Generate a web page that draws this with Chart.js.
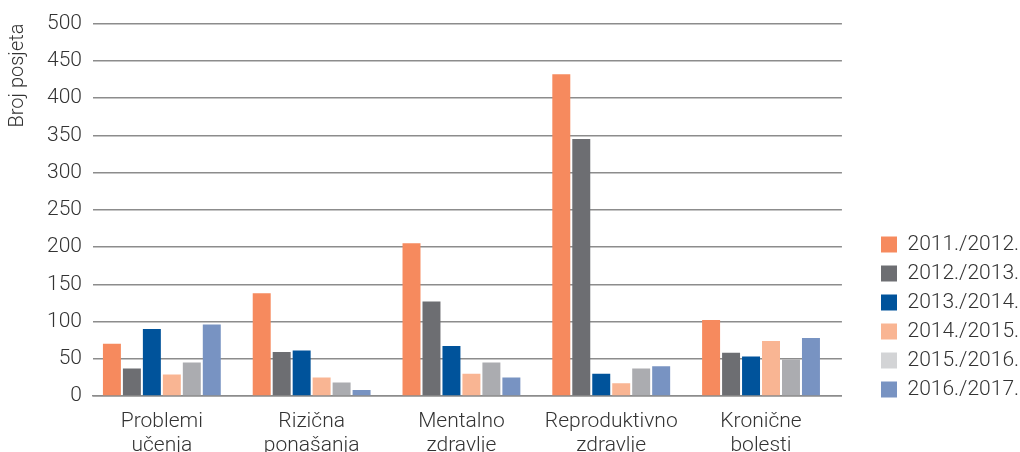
<!DOCTYPE html>
<html>
<head>
<meta charset="utf-8">
<script src="https://cdn.jsdelivr.net/npm/chart.js@4.4.0/dist/chart.umd.min.js"></script>
<style>
  html, body { margin: 0; padding: 0; background: #fff; }
  #okvir { width: 1020px; height: 452px; }
</style>
</head>
<body>
<div id="okvir"><canvas id="grafikon"></canvas></div>
<script>
// ---------- podaci ----------
const kategorije = [
    ['Problemi', 'učenja'],
    ['Rizična', 'ponašanja'],
    ['Mentalno', 'zdravlje'],
    ['Reproduktivno', 'zdravlje'],
    ['Kronične', 'bolesti']
];
const godine = ['2011./2012.', '2012./2013.', '2013./2014.', '2014./2015.', '2015./2016.', '2016./2017.'];

const posjete2011 = [70, 138, 205, 432, 102];
const posjete2012 = [37, 59, 127, 345, 58];
const posjete2013 = [90, 61, 67, 30, 53];
const posjete2014 = [29, 25, 30, 17, 74];
const posjete2015 = [45, 18, 45, 37, 49];
const posjete2016 = [96, 8, 25, 40, 78];

const yMin = 0, yMax = 500, yKorak = 50;

// ---------- boje ----------
const boje = ['#F68A5E', '#6D6E72', '#00539B', '#F9B593', '#ABACB0', '#7893C2'];
const bojeLegende = ['#F68A5E', '#6D6E72', '#00539B', '#F9B593', '#D3D4D6', '#7893C2'];
const FONT = 'Roboto';

const serije = [posjete2011, posjete2012, posjete2013, posjete2014, posjete2015, posjete2016];

// pomak legende na mjesto kao u originalu
const pomakLegende = {
    id: 'pomakLegende',
    afterLayout(chart) {
        const l = chart.legend;
        const dx = 881 - (l.left + 8);
        const dy = 234 - (l.top + 8);
        l.left += dx; l.right += dx;
        l.top += dy; l.bottom += dy;
    }
};

new Chart(document.getElementById('grafikon'), {
    type: 'bar',
    data: {
        datasets: godine.map((g, i) => ({
            label: g,
            // x = redni broj kategorije (linearna os da skupine sjednu kao u Excelu)
            data: serije[i].map((v, k) => ({ x: k, y: v })),
            backgroundColor: boje[i],
            categoryPercentage: 0.8,
            barPercentage: 0.9
        }))
    },
    options: {
        responsive: true,
        maintainAspectRatio: false,
        animation: false,
        layout: { padding: { top: 21, left: 6, right: 0, bottom: 0 } },
        plugins: {
            tooltip: { enabled: false },
            legend: {
                position: 'right',
                align: 'start',
                labels: {
                    boxWidth: 16,
                    boxHeight: 16,
                    padding: 8,
                    color: '#333',
                    font: { family: FONT, size: 21, weight: '300' },
                    generateLabels: chart => godine.map((g, i) => ({
                        text: g,
                        fillStyle: bojeLegende[i],
                        strokeStyle: bojeLegende[i],
                        lineWidth: 0,
                        datasetIndex: i,
                        fontColor: '#333'
                    }))
                }
            }
        },
        scales: {
            x: {
                type: 'linear',
                min: -0.46,
                max: kategorije.length - 0.46,
                offset: false,
                grid: { display: false, drawTicks: false },
                border: { display: true, color: '#8c8c8c', width: 1.5 },
                afterBuildTicks: s => { s.ticks = kategorije.map((_, k) => ({ value: k })); },
                ticks: {
                    color: '#333',
                    padding: 14,
                    maxRotation: 0,
                    autoSkip: false,
                    font: { family: FONT, size: 21, weight: '300', lineHeight: 1.15 },
                    callback: v => kategorije[Math.round(v)] || ''
                },
                afterFit: s => { s.height = 56; }
            },
            y: {
                min: yMin,
                max: yMax,
                ticks: {
                    stepSize: yKorak,
                    color: '#333',
                    padding: 11,
                    font: { family: FONT, size: 21, weight: '300' }
                },
                grid: { color: '#8c8c8c', lineWidth: 1.5, drawTicks: false },
                border: { display: false },
                title: {
                    display: true,
                    text: 'Broj posjeta',
                    align: 'end',
                    color: '#333',
                    padding: { top: 0, bottom: 6 },
                    font: { family: FONT, size: 20, weight: '300' }
                }
            },
            razmak: {
                position: 'right',
                display: true,
                grid: { display: false },
                border: { display: false },
                ticks: { display: false },
                afterFit: s => { s.width = 22; }
            }
        }
    },
    plugins: [pomakLegende]
});
</script>
</body>
</html>
